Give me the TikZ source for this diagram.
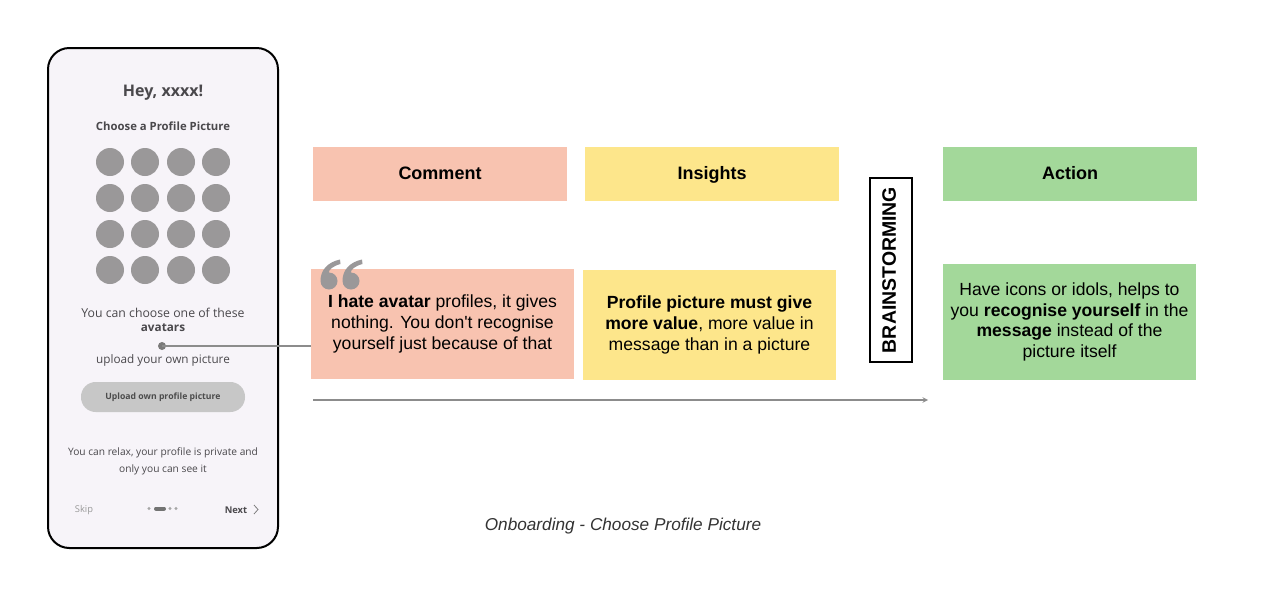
\documentclass[tikz,border=0pt]{standalone}
\usepackage{fontspec}
\setmainfont{Liberation Sans}
\newfontfamily\phonefont{Open Sans}
\definecolor{salmon}{HTML}{F8C3B0}
\definecolor{butter}{HTML}{FDE68B}
\definecolor{mint}{HTML}{A3D89A}
\definecolor{screen}{HTML}{F7F4F9}
\definecolor{avatar}{HTML}{9A9899}
\definecolor{phonetext}{HTML}{4A484C}
\tikzset{
  head/.style={minimum width=190.5pt,minimum height=40pt,inner sep=0pt,text height=0.8em,text depth=0pt,font=\fontsize{13.5}{15}\selectfont\bfseries},
  body/.style={inner sep=0pt,align=center,font=\fontsize{13.2}{15.5}\selectfont},
  ptext/.style={text=phonetext,font=\phonefont\fontsize{8.8}{10}\selectfont,align=center},
  face/.style={circle,fill=avatar,minimum size=21pt,inner sep=0pt}
}
\begin{document}
\begin{tikzpicture}[x=0.75pt,y=-0.75pt]
\useasboundingbox (0,0) rectangle (1267,596);
% phone
\draw[line width=1.5pt,fill=screen,rounded corners=16pt] (48,48) rectangle (278,548);
\node[ptext,font=\phonefont\fontsize{12}{14}\selectfont\bfseries] (hey) at (163,93) {Hey, xxxx!};
\node[ptext,font=\phonefont\fontsize{8.5}{10}\selectfont\bfseries] (choose) at (163,126) {Choose a Profile Picture};
\foreach \i/\x in {1/110,2/145,3/181,4/216}
  \foreach \j/\y in {1/162,2/198,3/234,4/270}
    \node[face] (f\i\j) at (\x,\y) {};
\node[ptext,font=\phonefont\fontsize{9.2}{10}\selectfont] (one) at (163,313) {You can choose one of these};
\node[ptext,font=\phonefont\fontsize{8.8}{10}\selectfont\bfseries] (avatars) at (163,328) {avatars};
\node[ptext] (upload) at (163,360) {upload your own picture};
\fill[fill=avatar!80!black] (162,346) circle (4);
\coordinate (or) at (162,346);
\draw[fill=black!22,draw=none,rounded corners=11pt] (81,382) rectangle (245,412);
\node[ptext,text=black!70,font=\phonefont\fontsize{6.5}{8}\selectfont\bfseries] (btn) at (163,397) {Upload own profile picture};
\node[ptext,font=\phonefont\fontsize{7.65}{12.5}\selectfont] (relax) at (163,461) {You can relax, your profile is private and\\only you can see it};
\node[ptext,text=black!40,font=\phonefont\fontsize{7}{8}\selectfont] (skip) at (84,510) {Skip};
\node[ptext,font=\phonefont\fontsize{7}{8}\selectfont\bfseries] (next) at (236,510) {Next};
\draw[black!50,line width=0.6pt] (254,505) -- (258,509.5) -- (254,514);
\fill[black!35] (149,508.5) circle (1.6) (170,508.5) circle (1.6) (176,508.5) circle (1.6);
\draw[black!55,line width=3pt,line cap=round] (156,508.5) -- (164,508.5);
% header boxes
\node[head,fill=salmon] (comment) at (440,174) {Comment};
\node[head,fill=butter] (insights) at (712,174) {Insights};
\node[head,fill=mint] (action) at (1070,174) {Action};
\node[draw,line width=1.2pt,fill=white,minimum width=138pt,minimum height=31.5pt,inner sep=0pt,rotate=90,text height=0.72em,text depth=0pt,font=\fontsize{14.6}{15}\selectfont\bfseries] (brain) at (891,270) {BRAINSTORMING};
% body boxes
\node[body,fill=salmon,minimum width=197pt,minimum height=82.5pt] (quote) at (442.5,324) {\textbf{I hate avatar} profiles, it gives\\nothing. You don\textquotesingle t recognise\\yourself just because of that};
\node[body,fill=butter,minimum width=190pt,minimum height=82.5pt] (insight) at (709.5,325) {\textbf{Profile picture must give}\\\textbf{more value}, more value in\\message than in a picture};
\node[body,fill=mint,minimum width=190pt,minimum height=87pt] (act) at (1069.5,322) {Have icons or idols, helps to\\you \textbf{recognise yourself} in the\\\textbf{message} instead of the\\picture itself};
% quote mark
\foreach \cx in {329,351}
  \fill[avatar] (\cx,281) circle (8.5)
    (\cx-8.5,282) .. controls (\cx-9,270) and (\cx-1,262) .. (\cx+11,259.5)
    -- (\cx+11.5,264) .. controls (\cx+4,266) and (\cx-1,270) .. (\cx,273) -- cycle;
% connectors
\draw[black!45,line width=0.8pt] (or) -- (or -| quote.west);
\coordinate (flowstart) at (313,400);
\coordinate (flowend) at (928,400);
\draw[black!45,line width=0.8pt,-stealth] (flowstart) -- (flowend);
\node[font=\fontsize{12.9}{14}\selectfont\itshape,text=black!80] (caption) at (623,526) {Onboarding - Choose Profile Picture};
\end{tikzpicture}
\end{document}
